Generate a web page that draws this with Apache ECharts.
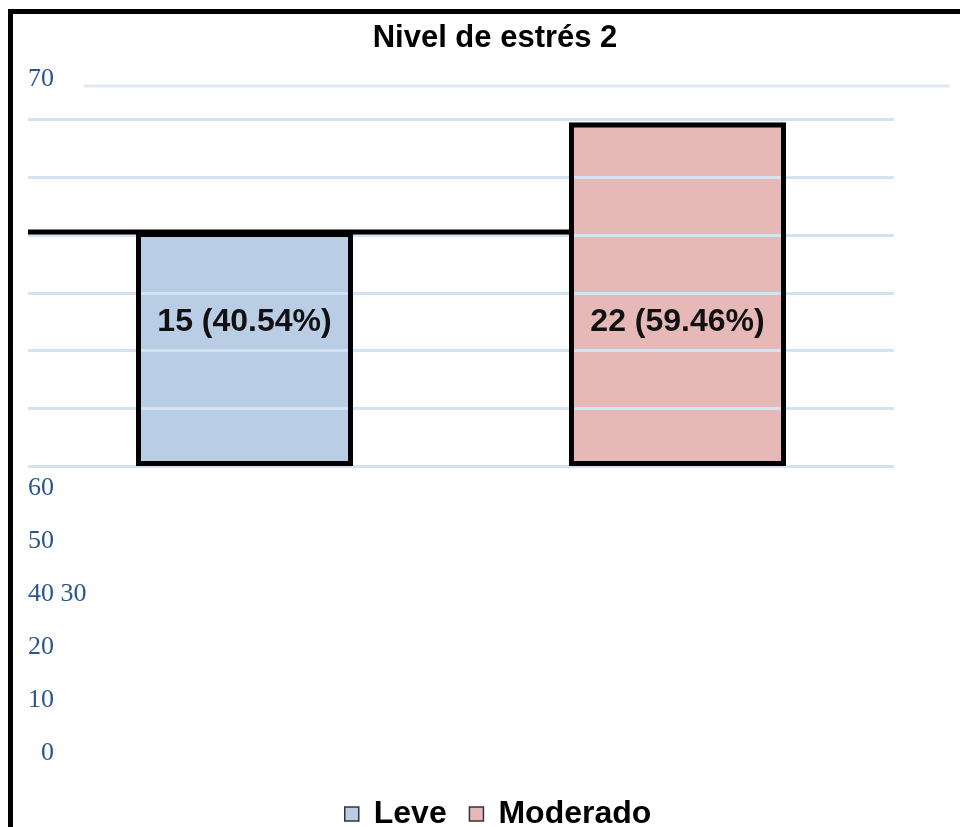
<!DOCTYPE html>
<html><head><meta charset="utf-8">
<script src="https://cdn.jsdelivr.net/npm/echarts@6/dist/echarts.min.js"></script>
<style>html,body{margin:0;padding:0;background:#fff}#c{width:960px;height:827px}</style>
</head><body><div id="c"></div>
<script>
// ---- data ----
const chartTitle = 'Nivel de estrés 2';
const categories = ['Leve', 'Moderado'];
const leveValues = [15, '-'];
const moderadoValues = ['-', 22];
const counts = [15, 22];
const topTickLabel = '70';
const sideTickLabels = ['  0', '10', '20', '40 30', '50', '60'];

const total = counts.reduce((a, b) => a + b, 0);
const BAR_W = 217;
const GRID_COLOR = '#d4e2f1';
const TICK_COLOR = '#2b5592';

const chart = echarts.init(document.getElementById('c'));

function frameGraphics(extra) {
  return [
    { id: 'frameTop', type: 'rect', shape: { x: 8, y: 9, width: 952, height: 5 }, style: { fill: '#000' }, z: 10 },
    { id: 'frameLeft', type: 'rect', shape: { x: 8, y: 9, width: 5, height: 818 }, style: { fill: '#000' }, z: 10 },
    { id: 'topGrid', type: 'line', shape: { x1: 84, y1: 86, x2: 950, y2: 86 }, style: { stroke: '#dfe9f5', lineWidth: 3 }, z: 1 },
    { id: 'topTick', type: 'text', x: 28, y: 79, style: { text: topTickLabel, fill: TICK_COLOR, font: '26px "Liberation Serif", serif', textVerticalAlign: 'middle' } }
  ].concat(extra || []);
}

chart.setOption({
  animation: false,
  backgroundColor: '#fff',
  title: {
    text: chartTitle, left: 490, top: 18, textAlign: 'center',
    textStyle: { fontFamily: 'Liberation Sans, Arial, sans-serif', fontWeight: 'bold', fontSize: 31, color: '#000' }
  },
  legend: {
    data: categories, top: 793, left: 339, icon: 'rect', itemWidth: 14, itemHeight: 14, itemGap: 22,
    itemStyle: { borderColor: '#333', borderWidth: 1.5 },
    textStyle: { fontFamily: 'Liberation Sans, Arial, sans-serif', fontWeight: 'bold', fontSize: 32, color: '#000', padding: [0, 0, 0, 10] }
  },
  grid: [
    { left: 28, right: 66, top: 119.5, bottom: 361 },
    { left: 60, width: 10, top: 488, height: 265 }
  ],
  xAxis: [
    { type: 'category', data: categories, gridIndex: 0, axisLine: { show: false }, axisTick: { show: false }, axisLabel: { show: false } },
    { type: 'value', gridIndex: 1, show: false }
  ],
  yAxis: [
    { type: 'value', gridIndex: 0, min: 0, max: 22.2, interval: 3.7, z: 3,
      axisLabel: { show: false }, axisLine: { show: false }, axisTick: { show: false },
      splitLine: { show: true, lineStyle: { color: GRID_COLOR, width: 3 } } },
    { type: 'value', gridIndex: 1, min: 0, max: 5, interval: 1,
      axisLine: { show: false }, axisTick: { show: false }, splitLine: { show: false },
      axisLabel: { align: 'left', margin: 32, color: TICK_COLOR, fontFamily: 'Liberation Serif, serif', fontSize: 26,
        formatter: v => sideTickLabels[Math.round(v)] } }
  ],
  series: [
    { name: 'Leve', type: 'bar', data: leveValues, barWidth: BAR_W, barGap: '-100%', z: 2,
      itemStyle: { color: '#b9cde5' } },
    { name: 'Moderado', type: 'bar', data: moderadoValues, barWidth: BAR_W, barGap: '-100%', z: 2,
      itemStyle: { color: '#e6b9b8' } },
    { name: 'marco', type: 'bar', data: counts, barWidth: BAR_W, barGap: '-100%', z: 5,
      itemStyle: { color: 'rgba(0,0,0,0)', borderColor: '#000', borderWidth: 5 },
      label: { show: true, position: 'insideBottom', distance: 128,
        fontFamily: 'Liberation Sans, Arial, sans-serif', fontWeight: 'bold', fontSize: 32, color: '#111',
        formatter: p => p.value + ' (' + (p.value / total * 100).toFixed(2) + '%)' } }
  ],
  graphic: frameGraphics()
});

const yPix = chart.convertToPixel({ yAxisIndex: 0 }, counts[0]);
const xMod = chart.convertToPixel({ xAxisIndex: 0 }, categories[1]);
chart.setOption({
  graphic: frameGraphics([
    { id: 'levelLine', type: 'line', shape: { x1: 28, y1: yPix, x2: xMod - BAR_W / 2, y2: yPix },
      style: { stroke: '#000', lineWidth: 5 }, z: 8 }
  ])
});
</script></body></html>
